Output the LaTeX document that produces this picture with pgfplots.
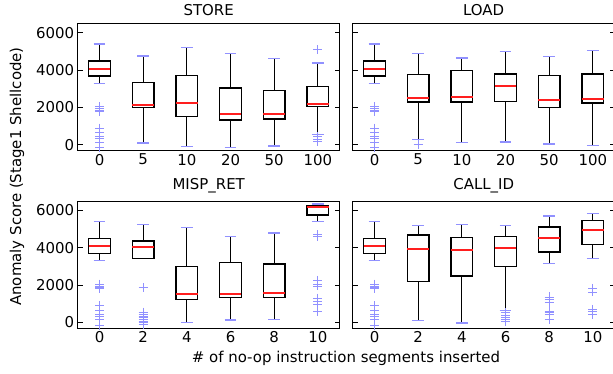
\documentclass[border=0pt]{standalone}
\usepackage{pgfplots}
\pgfplotsset{compat=1.18}
\usepgfplotslibrary{statistics}
\usepackage{fontspec}
\setmainfont{DejaVu Sans}
\definecolor{capblue}{RGB}{145,145,255}
\definecolor{medred}{RGB}{255,30,30}
\pgfplotsset{
  panel/.style={
    scale only axis, width=262bp, height=127bp,
    xmin=0.5, xmax=6.5, ymin=-300, ymax=6500,
    xtick={1,2,3,4,5,6}, xtick style={draw=none},
    ytick={0,2000,4000,6000},
    ytick pos=both, tick align=inside, major tick length=5bp,
    ytick style={black, line width=0.8bp},
    axis line style={line width=1bp},
    tick label style={font=\fontsize{15}{17}\selectfont},
    title style={font=\fontsize{15}{17}\selectfont, yshift=-2bp},
    boxplot/draw direction=y,
    boxplot/box extend=0.5,
    boxplot/whisker extend=0.27,
    boxplot/every box/.style={draw=black, line width=1.4bp},
    boxplot/every median/.style={draw=medred, line width=2bp},
    boxplot/every whisker/.style={draw=black, line width=0.9bp},
    boxplot/draw/lower whisker/.code={%
      \draw[/pgfplots/boxplot/every whisker/.try]
        (boxplot box cs:\pgfplotsboxplotvalue{lower quartile},0.5) --
        (boxplot box cs:\pgfplotsboxplotvalue{lower whisker},0.5);
      \draw[capblue, line width=1.4bp]
        (boxplot whisker cs:\pgfplotsboxplotvalue{lower whisker},0) --
        (boxplot whisker cs:\pgfplotsboxplotvalue{lower whisker},1);
    },
    boxplot/draw/upper whisker/.code={%
      \draw[/pgfplots/boxplot/every whisker/.try]
        (boxplot box cs:\pgfplotsboxplotvalue{upper quartile},0.5) --
        (boxplot box cs:\pgfplotsboxplotvalue{upper whisker},0.5);
      \draw[capblue, line width=1.4bp]
        (boxplot whisker cs:\pgfplotsboxplotvalue{upper whisker},0) --
        (boxplot whisker cs:\pgfplotsboxplotvalue{upper whisker},1);
    },
  },
  bxs/.style={black, mark=+, mark size=4.5bp, mark options={capblue, line width=0.8bp, solid}},
}
% draw position, lower whisker, Q1, median, Q3, upper whisker
\newcommand{\bx}[6]{\addplot[bxs, boxplot prepared={draw position=#1, lower whisker=#2, lower quartile=#3, median=#4, upper quartile=#5, upper whisker=#6}] coordinates {};}
\newcommand{\bxo}[7]{\addplot[bxs, boxplot prepared={draw position=#1, lower whisker=#2, lower quartile=#3, median=#4, upper quartile=#5, upper whisker=#6}] table[row sep=\\, y index=0] {#7};}
\newcommand{\base}{\bxo{1}{3300}{3680}{4070}{4500}{5400}{v\\ 2050\\ 1950\\ 1850\\ 1800\\ 900\\ 650\\ 450\\ 330\\ 150\\ -150\\}}
\begin{document}
\begin{tikzpicture}
\useasboundingbox (0bp,0bp) rectangle (613bp,374bp);
% STORE
\begin{axis}[panel, at={(77.7bp,223.5bp)}, anchor=south west, title={STORE},
  xticklabels={0,5,10,20,50,100}, yticklabels={0,2000,4000,6000}]
\base
\bx{2}{100}{2000}{2130}{3340}{4770}
\bx{3}{-70}{1520}{2270}{3700}{5220}
\bx{4}{-140}{1340}{1680}{3050}{4880}
\bx{5}{-50}{1380}{1660}{2910}{4610}
\bxo{6}{550}{2040}{2210}{3120}{4380}{v\\ 5100\\ 430\\ 300\\ 200\\}
\end{axis}
% LOAD
\begin{axis}[panel, at={(352.7bp,223.5bp)}, anchor=south west, title={LOAD},
  xticklabels={0,5,10,20,50,100}, yticklabels={}]
\base
\bxo{2}{300}{2290}{2520}{3770}{4880}{v\\ 0\\}
\bx{3}{130}{2290}{2550}{3970}{4660}
\bx{4}{160}{2320}{3140}{3800}{5000}
\bx{5}{50}{2000}{2390}{3730}{4720}
\bx{6}{-20}{2250}{2470}{3800}{5040}
\end{axis}
% MISP_RET
\begin{axis}[panel, at={(77.7bp,46bp)}, anchor=south west, title={MISP\_RET},
  xticklabels={0,2,4,6,8,10}, yticklabels={0,2000,4000,6000}]
\base
\bxo{2}{3410}{3410}{4040}{4360}{5250}{v\\ 1850\\ 550\\ 430\\ 340\\ 250\\ 150\\ 80\\ 0\\ -100\\}
\bx{3}{0}{1230}{1520}{2980}{5090}
\bx{4}{130}{1340}{1520}{3220}{4590}
\bx{5}{160}{1340}{1590}{3130}{4790}
\bxo{6}{5390}{5750}{6160}{6270}{6340}{v\\ 4700\\ 4600\\ 2250\\ 2050\\ 1950\\ 1300\\ 1100\\ 950\\ 600\\}
\end{axis}
% CALL_ID
\begin{axis}[panel, at={(352.7bp,46bp)}, anchor=south west, title={CALL\_ID},
  xticklabels={0,2,4,6,8,10}, yticklabels={}]
\base
\bx{2}{110}{2200}{3950}{4680}{5180}
\bx{3}{-40}{2480}{3860}{4540}{5250}
\bxo{4}{640}{2980}{4000}{4610}{5180}{v\\ 520\\ 390\\ 250\\ 160\\ 40\\}
\bxo{5}{3140}{3770}{4500}{5110}{5700}{v\\ 1360\\ 1230\\ 1090\\ 610\\ 520\\ 430\\ 160\\}
\bxo{6}{3430}{4160}{4930}{5450}{5840}{v\\ 1820\\ 1630\\ 700\\ 570\\ 430\\}
\end{axis}
\node[rotate=90, font=\fontsize{15}{17}\selectfont] at (17bp,197.5bp) {Anomaly Score (Stage1 Shellcode)};
\node[font=\fontsize{15}{17}\selectfont] at (346bp,16bp) {\# of no-op instruction segments inserted};
\end{tikzpicture}
\end{document}
